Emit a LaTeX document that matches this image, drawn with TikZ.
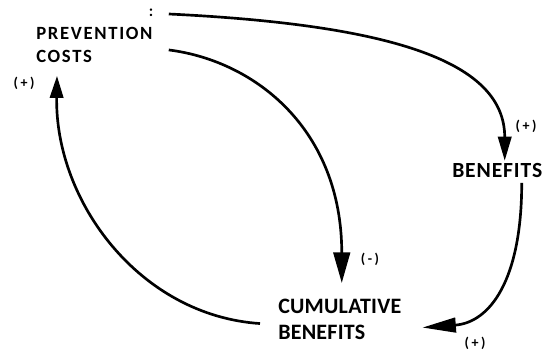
\documentclass[tikz,border=0pt]{standalone}
\usepackage{fontspec}
\setmainfont{Carlito}
\newfontfamily\topfont[LetterSpace=9]{Carlito}
\newfontfamily\lowfont[LetterSpace=1]{Carlito}
\newfontfamily\benfont[LetterSpace=4]{Carlito}
\newfontfamily\lblfont[LetterSpace=18]{Carlito}
\usetikzlibrary{arrows.meta}
\begin{document}
\begin{tikzpicture}[x=0.75pt,y=-0.75pt,
  lbl/.style={inner sep=0pt, anchor=north west, align=left},
  conn/.style={line width=2pt},
  sign/.style={inner sep=0pt, font=\lblfont\bfseries\fontsize{10.5pt}{12pt}\selectfont}
]
\useasboundingbox (0,0) rectangle (547,352);
\node[lbl, font=\topfont\bfseries\fontsize{14pt}{17.25pt}\selectfont] (pc) at (36,27) {PREVENTION\\COSTS};
\node[lbl, font=\lowfont\bfseries\fontsize{16.5pt}{19.5pt}\selectfont] (cb) at (278,299) {CUMULATIVE\\BENEFITS};
\node[lbl, font=\benfont\bfseries\fontsize{16.2pt}{18pt}\selectfont] (ben) at (452,162.7) {BENEFITS};
\node[inner sep=0pt, font=\bfseries\fontsize{12pt}{14pt}\selectfont] (colon) at (151,12.5) {:};
\node[sign] (s1) at (526,126) {(+)};
\node[sign] (s2) at (475,343) {(+)};
\node[sign] (s3) at (370,259) {(-)};
\node[sign] (s4) at (24,83) {(+)};
\draw[conn, -{Triangle[length=18pt,width=10pt]}] ([shift={(16,-13)}]pc.north east) .. controls +(227,11) and +(0,-98) .. ([shift={(7.5,-2)}]ben.north);
\draw[conn, -{Triangle[length=23pt,width=12.5pt]}] ([shift={(16,5)}]pc.east) .. controls +(87,11) and +(0,-153) .. ([shift={(2,-16)}]cb.north);
\draw[conn, -{Triangle[length=25pt,width=11pt]}] ([shift={(24.5,5.3)}]ben.south) .. controls +(0,98) and +(67,-5) .. ([shift={(21,8)}]cb.east);
\draw[conn, -{Triangle[length=16.5pt,width=10pt]}] ([shift={(-18,4)}]cb.west) .. controls +(-120,-8) and +(-2,126) .. ([shift={(21,13)}]pc.south west);
\end{tikzpicture}
\end{document}
